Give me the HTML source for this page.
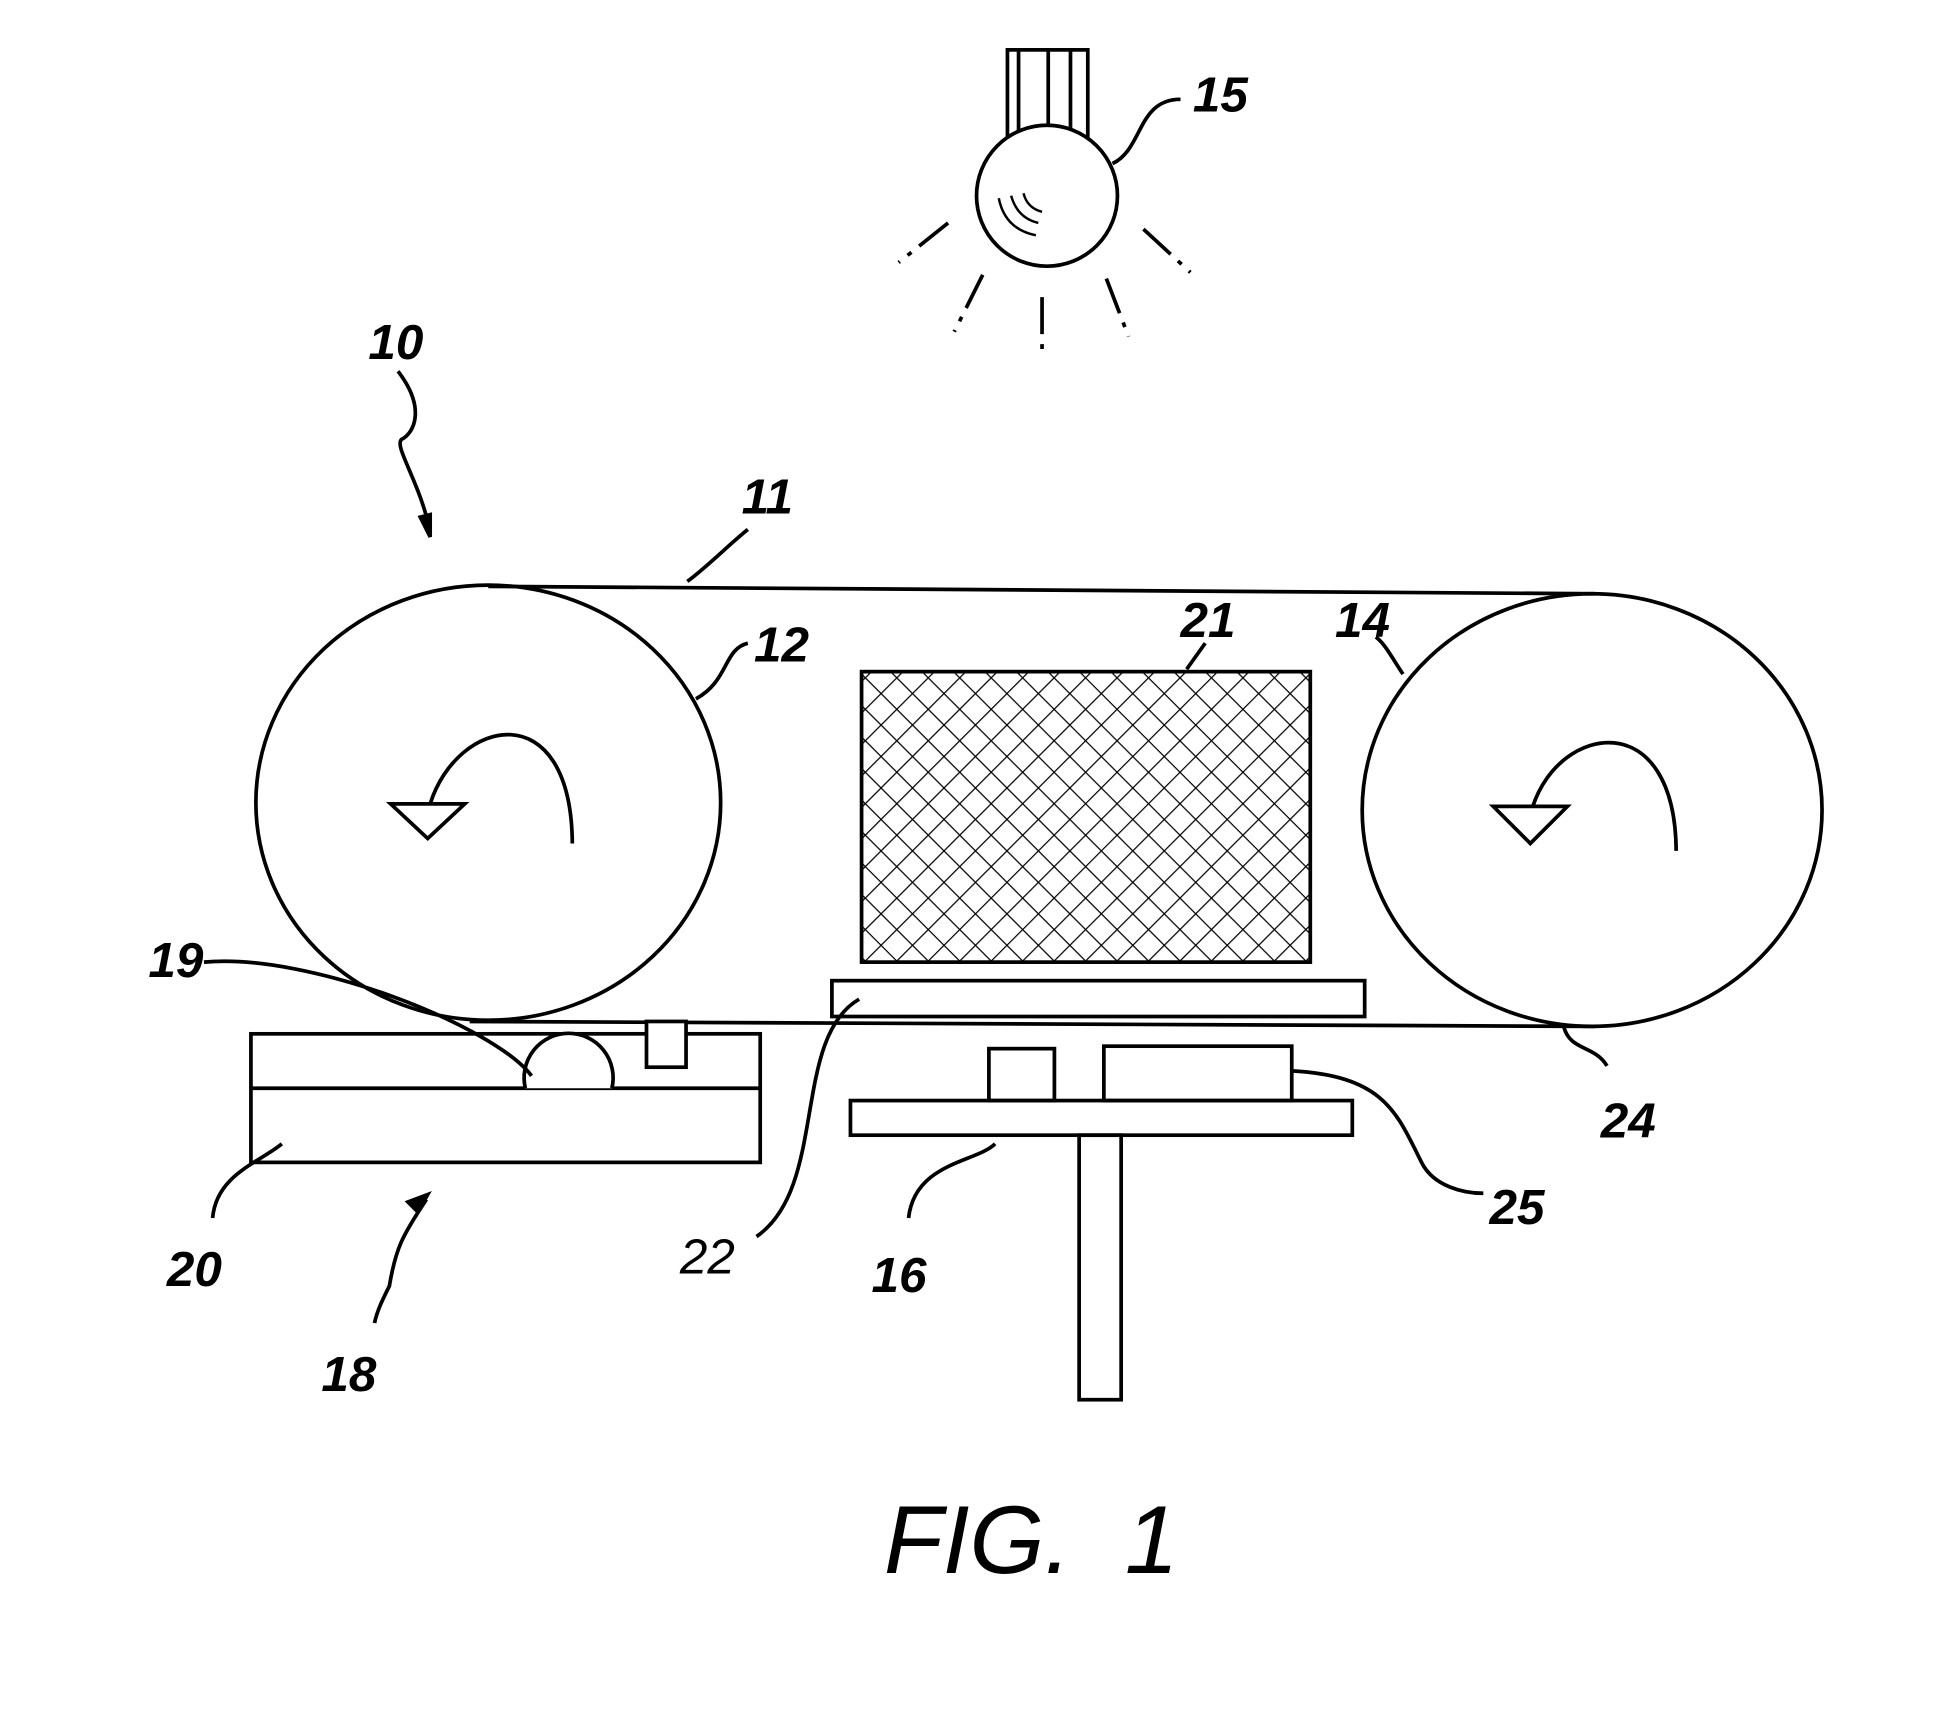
<!DOCTYPE html>
<html><head><meta charset="utf-8"><style>html,body{margin:0;padding:0;background:#fff}svg{display:block}</style></head>
<body>
<svg width="1937" height="1724" viewBox="0 0 1567 1394" xmlns="http://www.w3.org/2000/svg">
<defs>
<pattern id="h" width="18" height="18" patternUnits="userSpaceOnUse" patternTransform="rotate(45)">
<line x1="0" y1="0" x2="0" y2="18" stroke="#000" stroke-width="2"/>
<line x1="0" y1="0" x2="18" y2="0" stroke="#000" stroke-width="2"/>
</pattern>
</defs>
<g fill="none" stroke="#000" stroke-width="3">
<rect x="815" y="40" width="65" height="72" fill="#fff"/>
<line x1="824" y1="40" x2="824" y2="112"/><line x1="848" y1="40" x2="848" y2="112"/><line x1="866" y1="40" x2="866" y2="112"/>
<circle cx="847" cy="158" r="57" fill="#fff"/>
<path d="M808 160 q5 25 30 30 M818 158 q5 18 22 22 M828 156 q3 12 15 15" stroke-width="2"/>
<path d="M900 132 C925 120 920 80 955 80"/>
<line x1="767" y1="180" x2="727" y2="212" stroke-dasharray="30 8 4 8"/>
<line x1="925" y1="185" x2="963" y2="220" stroke-dasharray="30 8 4 8"/>
<line x1="795" y1="222" x2="772" y2="268" stroke-dasharray="30 8 4 8"/>
<line x1="843" y1="240" x2="843" y2="290" stroke-dasharray="30 8 4 8"/>
<line x1="895" y1="225" x2="913" y2="272" stroke-dasharray="30 8 4 8"/>
<path d="M322 300 C345 330 335 350 325 355 C318 360 340 390 348 430"/>
<path d="M340 418 l8 16 l0-18z" fill="#000"/>
<line x1="395" y1="474" x2="1290" y2="480"/>
<line x1="380" y1="826" x2="1290" y2="830"/>
<ellipse cx="395" cy="649" rx="188" ry="176"/>
<ellipse cx="1288" cy="655" rx="186" ry="175"/>
<path d="M463 682 C462 560 370 580 348 650"/>
<path d="M316 650 l60 0 l-30 28z" fill="#fff"/>
<path d="M1356 688 C1355 570 1262 585 1240 652"/>
<path d="M1208 652 l60 0 l-30 30z" fill="#fff"/>
<path d="M556 470 C570 460 590 440 605 428"/>
<path d="M563 565 C590 550 585 525 605 520"/>
<path d="M1135 545 C1125 530 1120 520 1113 515"/>
<path d="M1265 830 C1270 850 1290 845 1300 862"/>
<rect x="697" y="543" width="363" height="235" fill="url(#h)"/>
<line x1="960" y1="541" x2="975" y2="520"/>
<rect x="673" y="793" width="431" height="29" fill="#fff"/>
<path d="M695 808 C640 840 670 960 612 1000"/>
<rect x="203" y="836" width="412" height="104"/>
<line x1="203" y1="880" x2="615" y2="880"/>
<path d="M425 880 A36 36 0 1 1 495 880" fill="#fff"/>
<rect x="523" y="826" width="32" height="37" fill="#fff"/>
<path d="M165 778 C250 770 400 830 430 870"/>
<path d="M228 925 C210 940 175 950 172 985"/>
<path d="M345 970 C325 1000 320 1010 315 1040 C310 1050 305 1060 303 1070"/>
<path d="M338 980 l8-14 l-16 6z" fill="#000"/>
<rect x="800" y="848" width="53" height="42"/>
<rect x="893" y="846" width="152" height="44"/>
<rect x="688" y="890" width="406" height="28"/>
<rect x="873" y="918" width="34" height="214"/>
<path d="M805 925 C790 940 740 940 735 985"/>
<path d="M1045 866 C1120 870 1130 900 1150 940 C1160 960 1185 965 1200 965"/>
</g>
<g font-family="Liberation Sans, sans-serif" font-style="italic" font-weight="bold" font-size="40" fill="#000">
<text x="965" y="90">15</text>
<text x="298" y="290">10</text>
<text x="600" y="415">11</text>
<text x="610" y="535">12</text>
<text x="955" y="515">21</text>
<text x="1080" y="515">14</text>
<text x="120" y="790">19</text>
<text x="135" y="1040">20</text>
<text x="260" y="1125">18</text>
<text x="550" y="1030" font-weight="normal">22</text>
<text x="705" y="1045">16</text>
<text x="1205" y="990">25</text>
<text x="1295" y="920">24</text>
</g>
<text x="715" y="1272" font-family="Liberation Sans, sans-serif" font-style="italic" font-size="78" fill="#000">FIG.&#160;&#160;1</text>
</svg>
</body></html>
